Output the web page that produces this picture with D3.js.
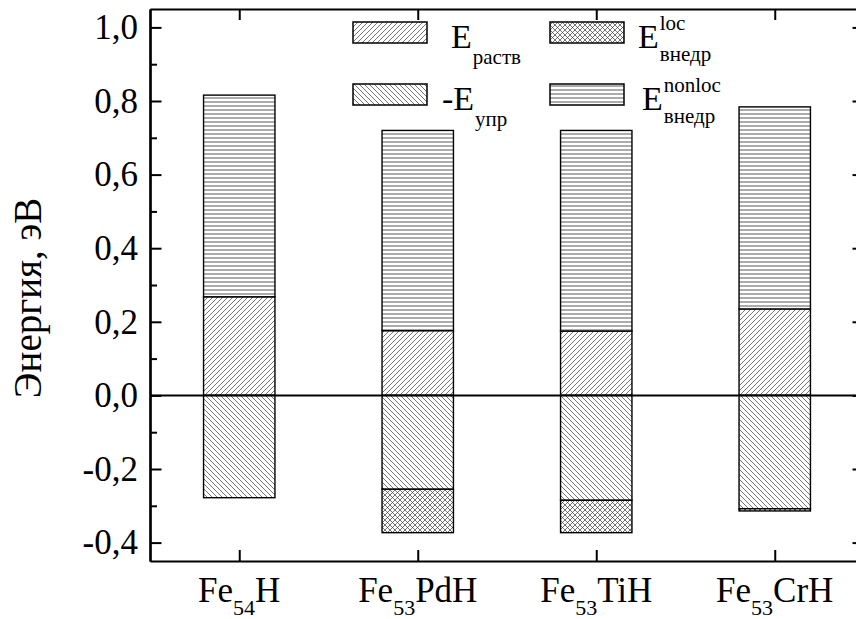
<!DOCTYPE html>
<html>
<head>
<meta charset="utf-8">
<script src="https://cdn.jsdelivr.net/npm/d3@7"></script>
<style>
  body { margin: 0; background: #fff; }
  svg text { font-family: "Liberation Serif", "Times New Roman", serif; }
</style>
</head>
<body>
<script>
// categories: "Fe" + subscript + tail
const catBase = ["Fe", "Fe", "Fe", "Fe"];
const catSub = ["54", "53", "53", "53"];
const catTail = ["H", "PdH", "TiH", "CrH"];

// series values, eV
const eRastv = [0.268, 0.176, 0.175, 0.235];
const eNonloc = [0.548, 0.544, 0.545, 0.549];
const eUpr = [-0.278, -0.255, -0.285, -0.308];
const eLoc = [0, -0.118, -0.088, -0.006];

// y tick labels
const yTicks = [-0.4, -0.2, 0.0, 0.2, 0.4, 0.6, 0.8, 1.0];
const yMinor = [-0.3, -0.1, 0.1, 0.3, 0.5, 0.7, 0.9];

const serif = "Liberation Serif, Times New Roman, serif";
const width = 856, height = 619;
const svg = d3.select("body").append("svg")
    .attr("width", width)
    .attr("height", height)
    .attr("font-family", serif);

const x = d3.scaleLinear().domain([0.5, 4.5]).range([150, 864]);
const y = d3.scaleLinear().domain([-0.45, 1.05]).range([561, 9]);
const barW = x(1.2) - x(0.8);

// hatch patterns
const defs = svg.append("defs");
function hatch(id, d, size) {
    defs.append("pattern")
        .attr("id", id)
        .attr("patternUnits", "userSpaceOnUse")
        .attr("width", size).attr("height", size)
      .append("path")
        .attr("d", d)
        .attr("stroke", "#3a3a3a")
        .attr("stroke-width", 0.7)
        .attr("fill", "none");
}
hatch("fwd", "M-1,1 l2,-2 M0,5 l5,-5 M4,6 l2,-2", 5);
hatch("back", "M-1,4 l2,2 M0,0 l5,5 M4,-1 l2,2", 5);
hatch("cross", "M-1,1 l2,-2 M0,5 l5,-5 M4,6 l2,-2 M-1,4 l2,2 M0,0 l5,5 M4,-1 l2,2", 5);
defs.append("pattern")
    .attr("id", "horiz")
    .attr("patternUnits", "userSpaceOnUse")
    .attr("width", 8).attr("height", 4)
  .append("path")
    .attr("d", "M0,2 H8")
    .attr("stroke", "#444")
    .attr("stroke-width", 0.9);

const keys = ["rastv", "upr", "loc", "nonloc"];
const fills = { rastv: "url(#fwd)", upr: "url(#back)", loc: "url(#cross)", nonloc: "url(#horiz)" };

const rows = catTail.map((t, i) => ({
    pos: i + 1, rastv: eRastv[i], upr: eUpr[i], loc: eLoc[i], nonloc: eNonloc[i]
}));
const series = d3.stack().keys(keys).offset(d3.stackOffsetDiverging)(rows);

// bars
series.forEach(s => {
    svg.append("g").selectAll("rect")
        .data(s.filter(d => d[1] !== d[0]))
        .join("rect")
        .attr("x", d => x(d.data.pos) - barW / 2)
        .attr("width", barW)
        .attr("y", d => y(Math.max(d[0], d[1])))
        .attr("height", d => Math.abs(y(d[0]) - y(d[1])))
        .attr("fill", "#fff");
    svg.append("g").selectAll("rect")
        .data(s.filter(d => d[1] !== d[0]))
        .join("rect")
        .attr("x", d => x(d.data.pos) - barW / 2)
        .attr("width", barW)
        .attr("y", d => y(Math.max(d[0], d[1])))
        .attr("height", d => Math.abs(y(d[0]) - y(d[1])))
        .attr("fill", fills[s.key])
        .attr("stroke", "#000")
        .attr("stroke-width", 1.4);
});

// zero line
svg.append("line")
    .attr("x1", x(0.5)).attr("x2", x(4.5))
    .attr("y1", y(0)).attr("y2", y(0))
    .attr("stroke", "#000").attr("stroke-width", 2);

// axes
const fmt = d => d3.format(".1f")(d).replace(".", ",").replace("−", "-");
function styleAxis(g) {
    g.attr("font-family", serif);
    g.selectAll("path.domain").attr("stroke", "#000").attr("stroke-width", 2.2);
    g.selectAll(".tick line").attr("stroke", "#000").attr("stroke-width", 2);
    g.selectAll(".tick text").attr("fill", "#000");
}
svg.append("g")
    .attr("transform", `translate(${x(0.5)},0)`)
    .call(d3.axisLeft(y).tickValues(yTicks).tickFormat(fmt).tickSize(-11.5).tickSizeOuter(0).tickPadding(12))
    .call(styleAxis)
    .call(g => g.attr("font-size", 35));
svg.append("g")
    .attr("transform", `translate(${x(0.5)},0)`)
    .call(d3.axisLeft(y).tickValues(yMinor).tickFormat("").tickSize(-7).tickSizeOuter(0))
    .call(styleAxis);
svg.append("g")
    .attr("transform", `translate(${x(4.5)},0)`)
    .call(d3.axisRight(y).tickValues(yTicks).tickFormat("").tickSize(-11.5).tickSizeOuter(0))
    .call(styleAxis);
svg.append("g")
    .attr("transform", `translate(${x(4.5)},0)`)
    .call(d3.axisRight(y).tickValues(yMinor).tickFormat("").tickSize(-7).tickSizeOuter(0))
    .call(styleAxis);
svg.append("g")
    .attr("transform", `translate(0,${y(1.05)})`)
    .call(d3.axisTop(x).tickValues([1, 2, 3, 4]).tickFormat("").tickSize(-11).tickSizeOuter(0))
    .call(styleAxis);
svg.append("g")
    .attr("transform", `translate(0,${y(-0.45)})`)
    .call(d3.axisBottom(x).tickValues([1, 2, 3, 4]).tickFormat("").tickSize(-11).tickSizeOuter(0))
    .call(styleAxis);

// x labels with subscripts
rows.forEach((r, i) => {
    const t = svg.append("text")
        .attr("x", x(r.pos))
        .attr("y", 602)
        .attr("text-anchor", "middle")
        .attr("font-size", 35);
    t.append("tspan").text(catBase[i]);
    t.append("tspan").attr("font-size", 22).attr("dy", 13).text(catSub[i]);
    t.append("tspan").attr("dy", -13).text(catTail[i]);
});

// y title
svg.append("text")
    .attr("transform", "translate(41,298) rotate(-90)")
    .attr("text-anchor", "middle")
    .attr("font-size", 39)
    .text("Энергия, эВ");

// legend
const legendItems = [
    { key: "rastv", bx: 353, by: 22, tx: 451, main: "E", sub: "раств", sup: null },
    { key: "loc", bx: 550, by: 22, tx: 638, main: "E", sub: "внедр", sup: "loc" },
    { key: "upr", bx: 353, by: 84, tx: 442, main: "-E", sub: "упр", sup: null },
    { key: "nonloc", bx: 550, by: 84, tx: 642, main: "E", sub: "внедр", sup: "nonloc" }
];
const lg = svg.append("g");
legendItems.forEach(it => {
    lg.append("rect")
        .attr("x", it.bx).attr("y", it.by)
        .attr("width", 74).attr("height", 21)
        .attr("fill", fills[it.key])
        .attr("stroke", "#000").attr("stroke-width", 1.5);
    const base = it.by + 26;
    const m = lg.append("text")
        .attr("x", it.tx).attr("y", base)
        .attr("font-size", 34)
        .text(it.main);
    const w = m.node().getComputedTextLength();
    lg.append("text")
        .attr("x", it.tx + w + 1).attr("y", base + (it.sup ? 13 : 16))
        .attr("font-size", 21)
        .text(it.sub);
    if (it.sup) {
        lg.append("text")
            .attr("x", it.tx + w + 1).attr("y", base - 18)
            .attr("font-size", 21)
            .text(it.sup);
    }
});
</script>
</body>
</html>
